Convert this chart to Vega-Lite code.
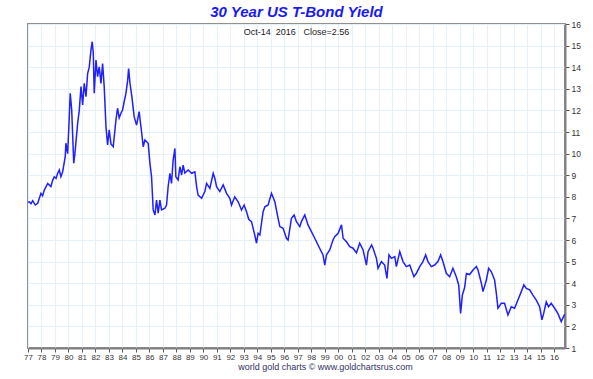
{
  "$schema": "https://vega.github.io/schema/vega-lite/v6.json",
  "width": 537,
  "height": 324,
  "autosize": "none",
  "padding": {"left": 28, "top": 24, "right": 28, "bottom": 31},
  "background": "white",
  "title": {
    "text": "30 Year US T-Bond Yield",
    "subtitle": "Oct-14\u00a0\u00a02016\u00a0\u00a0\u00a0Close=2.56",
    "anchor": "middle",
    "font": "Liberation Sans",
    "fontSize": 15,
    "fontStyle": "italic",
    "fontWeight": "bold",
    "color": "#1a1aee",
    "subtitleFont": "Liberation Sans",
    "subtitleFontSize": 9,
    "subtitleColor": "#222222",
    "subtitlePadding": 8,
    "offset": -17
  },
  "data": {"values": [
    {"t": 1977.00, "v": 7.75}, {"t": 1977.10, "v": 7.77}, {"t": 1977.22, "v": 7.68}, {"t": 1977.35, "v": 7.82}, {"t": 1977.54, "v": 7.62}, {"t": 1977.72, "v": 7.70},
    {"t": 1977.96, "v": 8.16}, {"t": 1978.08, "v": 8.05}, {"t": 1978.21, "v": 8.31}, {"t": 1978.46, "v": 8.62}, {"t": 1978.70, "v": 8.47}, {"t": 1978.82, "v": 8.75}, {"t": 1978.95, "v": 8.93},
    {"t": 1979.08, "v": 8.85}, {"t": 1979.20, "v": 9.09}, {"t": 1979.32, "v": 9.24}, {"t": 1979.44, "v": 8.93}, {"t": 1979.57, "v": 9.16}, {"t": 1979.76, "v": 9.86},
    {"t": 1979.81, "v": 10.48}, {"t": 1979.94, "v": 10.0}, {"t": 1980.06, "v": 11.71}, {"t": 1980.13, "v": 12.79}, {"t": 1980.24, "v": 12.02},
    {"t": 1980.39, "v": 9.55}, {"t": 1980.48, "v": 10.01}, {"t": 1980.68, "v": 11.4}, {"t": 1980.80, "v": 12.0}, {"t": 1980.93, "v": 13.1},
    {"t": 1981.05, "v": 12.25}, {"t": 1981.17, "v": 13.25}, {"t": 1981.30, "v": 12.64}, {"t": 1981.42, "v": 13.7}, {"t": 1981.54, "v": 14.0},
    {"t": 1981.67, "v": 14.8}, {"t": 1981.76, "v": 15.18}, {"t": 1981.84, "v": 14.64}, {"t": 1981.91, "v": 12.8}, {"t": 1982.04, "v": 14.33},
    {"t": 1982.16, "v": 13.56}, {"t": 1982.28, "v": 14.02}, {"t": 1982.41, "v": 13.25}, {"t": 1982.53, "v": 14.17}, {"t": 1982.65, "v": 13.1},
    {"t": 1982.78, "v": 11.25}, {"t": 1982.90, "v": 10.4}, {"t": 1983.02, "v": 11.1}, {"t": 1983.15, "v": 10.45}, {"t": 1983.32, "v": 10.32},
    {"t": 1983.52, "v": 11.56}, {"t": 1983.64, "v": 12.1}, {"t": 1983.76, "v": 11.65}, {"t": 1983.89, "v": 11.87}, {"t": 1984.01, "v": 12.02},
    {"t": 1984.13, "v": 12.4}, {"t": 1984.26, "v": 12.79}, {"t": 1984.39, "v": 13.4}, {"t": 1984.46, "v": 13.94}, {"t": 1984.56, "v": 13.25},
    {"t": 1984.70, "v": 12.64}, {"t": 1984.87, "v": 11.71}, {"t": 1985.05, "v": 11.32}, {"t": 1985.24, "v": 11.94}, {"t": 1985.42, "v": 11.0},
    {"t": 1985.54, "v": 10.32}, {"t": 1985.67, "v": 10.63}, {"t": 1985.91, "v": 10.48}, {"t": 1986.04, "v": 9.55}, {"t": 1986.16, "v": 8.93},
    {"t": 1986.28, "v": 7.39}, {"t": 1986.41, "v": 7.16}, {"t": 1986.53, "v": 7.85}, {"t": 1986.65, "v": 7.24}, {"t": 1986.78, "v": 7.85},
    {"t": 1986.90, "v": 7.39}, {"t": 1987.15, "v": 7.47}, {"t": 1987.27, "v": 7.62}, {"t": 1987.39, "v": 8.47}, {"t": 1987.52, "v": 9.09},
    {"t": 1987.64, "v": 8.62}, {"t": 1987.76, "v": 9.7}, {"t": 1987.89, "v": 10.24}, {"t": 1987.96, "v": 8.93}, {"t": 1988.13, "v": 8.78},
    {"t": 1988.26, "v": 9.39}, {"t": 1988.39, "v": 9.01}, {"t": 1988.50, "v": 9.47}, {"t": 1988.63, "v": 9.1}, {"t": 1988.87, "v": 9.24},
    {"t": 1989.13, "v": 9.09}, {"t": 1989.37, "v": 9.16}, {"t": 1989.50, "v": 8.47}, {"t": 1989.61, "v": 8.08}, {"t": 1989.87, "v": 7.93},
    {"t": 1990.11, "v": 8.24}, {"t": 1990.24, "v": 8.62}, {"t": 1990.48, "v": 8.39}, {"t": 1990.73, "v": 9.09}, {"t": 1990.85, "v": 8.86},
    {"t": 1990.98, "v": 8.47}, {"t": 1991.22, "v": 8.24}, {"t": 1991.47, "v": 8.55}, {"t": 1991.72, "v": 8.16}, {"t": 1991.96, "v": 7.93},
    {"t": 1992.09, "v": 7.62}, {"t": 1992.33, "v": 8.0}, {"t": 1992.58, "v": 7.77}, {"t": 1992.83, "v": 7.39}, {"t": 1993.02, "v": 7.62},
    {"t": 1993.20, "v": 7.31}, {"t": 1993.37, "v": 6.95}, {"t": 1993.57, "v": 6.85}, {"t": 1993.81, "v": 6.23}, {"t": 1993.94, "v": 5.85},
    {"t": 1994.06, "v": 6.31}, {"t": 1994.19, "v": 6.23}, {"t": 1994.43, "v": 7.31}, {"t": 1994.56, "v": 7.54}, {"t": 1994.80, "v": 7.62},
    {"t": 1995.05, "v": 8.16}, {"t": 1995.30, "v": 7.77}, {"t": 1995.54, "v": 7.0}, {"t": 1995.67, "v": 6.62}, {"t": 1995.91, "v": 6.54},
    {"t": 1996.16, "v": 6.08}, {"t": 1996.28, "v": 6.0}, {"t": 1996.53, "v": 7.0}, {"t": 1996.73, "v": 7.16}, {"t": 1996.90, "v": 6.85},
    {"t": 1997.15, "v": 6.62}, {"t": 1997.27, "v": 6.85}, {"t": 1997.52, "v": 7.16}, {"t": 1997.76, "v": 6.7}, {"t": 1998.01, "v": 6.39},
    {"t": 1998.26, "v": 6.08}, {"t": 1998.50, "v": 5.77}, {"t": 1998.87, "v": 5.31}, {"t": 1999.00, "v": 4.84}, {"t": 1999.13, "v": 5.31},
    {"t": 1999.37, "v": 5.54}, {"t": 1999.61, "v": 6.0}, {"t": 1999.74, "v": 6.15}, {"t": 1999.99, "v": 6.31}, {"t": 2000.24, "v": 6.7},
    {"t": 2000.36, "v": 6.08}, {"t": 2000.61, "v": 5.92}, {"t": 2000.85, "v": 5.69}, {"t": 2001.10, "v": 5.62}, {"t": 2001.35, "v": 5.4},
    {"t": 2001.59, "v": 5.85}, {"t": 2001.84, "v": 5.54}, {"t": 2002.09, "v": 4.84}, {"t": 2002.21, "v": 5.46}, {"t": 2002.47, "v": 5.77},
    {"t": 2002.58, "v": 5.62}, {"t": 2002.83, "v": 5.15}, {"t": 2002.95, "v": 4.69}, {"t": 2003.20, "v": 5.0}, {"t": 2003.44, "v": 4.84},
    {"t": 2003.61, "v": 4.22}, {"t": 2003.76, "v": 5.31}, {"t": 2003.94, "v": 5.15}, {"t": 2004.19, "v": 5.23}, {"t": 2004.31, "v": 4.77},
    {"t": 2004.56, "v": 5.46}, {"t": 2004.80, "v": 5.0}, {"t": 2005.05, "v": 4.77}, {"t": 2005.30, "v": 4.84}, {"t": 2005.61, "v": 4.3},
    {"t": 2005.79, "v": 4.46}, {"t": 2006.04, "v": 4.77}, {"t": 2006.28, "v": 5.0}, {"t": 2006.48, "v": 5.31}, {"t": 2006.65, "v": 5.0},
    {"t": 2006.90, "v": 4.77}, {"t": 2007.15, "v": 4.84}, {"t": 2007.39, "v": 5.0}, {"t": 2007.59, "v": 5.31}, {"t": 2007.76, "v": 5.0},
    {"t": 2008.01, "v": 4.46}, {"t": 2008.26, "v": 4.3}, {"t": 2008.50, "v": 4.69}, {"t": 2008.75, "v": 4.3}, {"t": 2008.93, "v": 3.92},
    {"t": 2009.07, "v": 2.6}, {"t": 2009.20, "v": 3.45}, {"t": 2009.37, "v": 3.8}, {"t": 2009.50, "v": 4.45}, {"t": 2009.74, "v": 4.4},
    {"t": 2009.99, "v": 4.61}, {"t": 2010.24, "v": 4.77}, {"t": 2010.36, "v": 4.61}, {"t": 2010.61, "v": 4.0}, {"t": 2010.73, "v": 3.61},
    {"t": 2010.98, "v": 4.15}, {"t": 2011.15, "v": 4.69}, {"t": 2011.35, "v": 4.53}, {"t": 2011.59, "v": 4.15}, {"t": 2011.72, "v": 3.53},
    {"t": 2011.84, "v": 2.84}, {"t": 2012.09, "v": 3.07}, {"t": 2012.33, "v": 3.07}, {"t": 2012.58, "v": 2.53}, {"t": 2012.83, "v": 2.91},
    {"t": 2013.07, "v": 2.84}, {"t": 2013.32, "v": 3.22}, {"t": 2013.57, "v": 3.61}, {"t": 2013.76, "v": 3.92}, {"t": 2013.94, "v": 3.76},
    {"t": 2014.19, "v": 3.69}, {"t": 2014.43, "v": 3.45}, {"t": 2014.68, "v": 3.22}, {"t": 2014.93, "v": 2.91}, {"t": 2015.10, "v": 2.3},
    {"t": 2015.23, "v": 2.6}, {"t": 2015.42, "v": 3.14}, {"t": 2015.59, "v": 2.91}, {"t": 2015.79, "v": 3.07}, {"t": 2016.04, "v": 2.84},
    {"t": 2016.28, "v": 2.6}, {"t": 2016.53, "v": 2.22}, {"t": 2016.70, "v": 2.45}, {"t": 2016.78, "v": 2.56}
  ]},
  "mark": {"type": "line", "color": "#1f1fff", "strokeWidth": 1.5, "clip": true},
  "encoding": {
    "x": {
      "field": "t",
      "type": "quantitative",
      "scale": {"domain": [1977, 2016.81], "nice": false, "zero": false},
      "axis": {
        "values": [1977,1978,1979,1980,1981,1982,1983,1984,1985,1986,1987,1988,1989,1990,1991,1992,1993,1994,1995,1996,1997,1998,1999,2000,2001,2002,2003,2004,2005,2006,2007,2008,2009,2010,2011,2012,2013,2014,2015,2016],
        "labelExpr": "slice(toString(datum.value), 2)",
        "labelFont": "Liberation Sans",
        "labelFontSize": 8,
        "labelColor": "#333333",
        "labelPadding": 1,
        "labelOverlap": false,
        "labelFlush": false,
        "tickColor": "#555555",
        "tickSize": 4,
        "domainColor": "#808080",
        "domainWidth": 2,
        "gridColor": "#e4f0fa",
        "gridWidth": 1,
        "title": "world gold charts © www.goldchartsrus.com",
        "titleFont": "Liberation Sans",
        "titleFontSize": 9,
        "titleFontWeight": "normal",
        "titleColor": "#333366",
        "titlePadding": 1,
        "titleX": 297,
        "titleAlign": "center"
      }
    },
    "y": {
      "field": "v",
      "type": "quantitative",
      "scale": {"domain": [1, 16], "nice": false, "zero": false},
      "axis": {
        "orient": "right",
        "values": [1,2,3,4,5,6,7,8,9,10,11,12,13,14,15,16],
        "labelFont": "Liberation Sans",
        "labelFontSize": 8.5,
        "labelColor": "#333333",
        "labelPadding": 2,
        "labelFlush": false,
        "tickColor": "#555555",
        "tickSize": 4,
        "domainColor": "#808080",
        "domainWidth": 2,
        "gridColor": "#e4f0fa",
        "gridWidth": 1,
        "title": null
      }
    }
  },
  "config": {"view": {"stroke": "#909090", "strokeWidth": 2}}
}
